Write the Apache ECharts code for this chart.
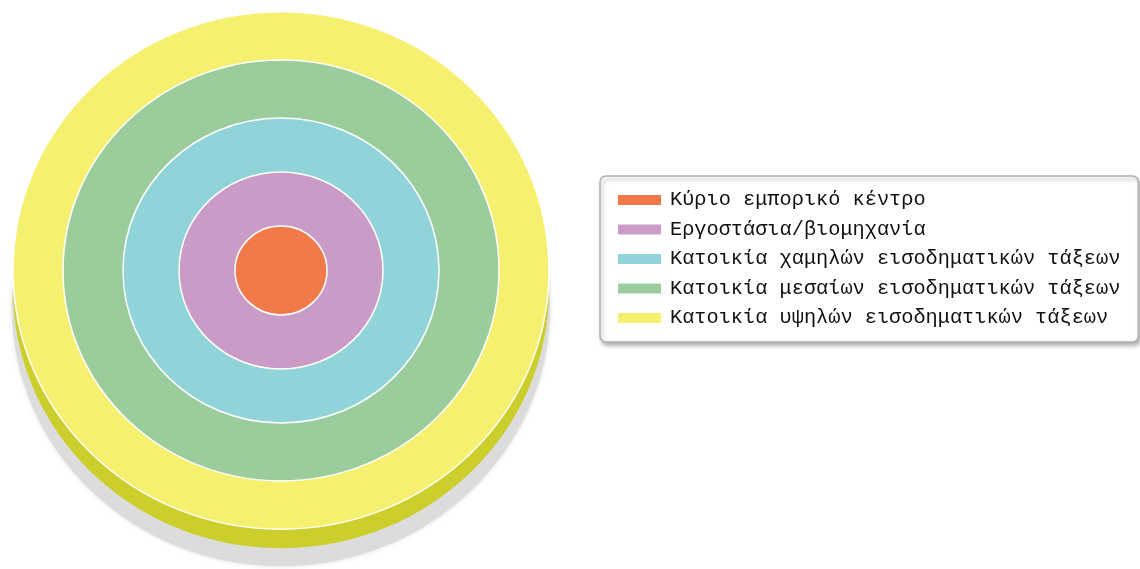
<!DOCTYPE html>
<html>
<head>
<meta charset="utf-8">
<script src="https://cdn.jsdelivr.net/npm/echarts@6/dist/echarts.min.js"></script>
<style>
html,body{margin:0;padding:0;background:#fff;}
#chart{width:1140px;height:569px;}
</style>
</head>
<body>
<div id="chart"></div>
<script>
// Zones, from the centre outwards
const zones = [
  'Κύριο εμπορικό κέντρο',
  'Εργοστάσια/βιομηχανία',
  'Κατοικία χαμηλών εισοδηματικών τάξεων',
  'Κατοικία μεσαίων εισοδηματικών τάξεων',
  'Κατοικία υψηλών εισοδηματικών τάξεων'
];
// Outer radius of each zone (relative units)
const radii = [46, 102, 158, 218, 268];
const colors = ['#f27a4a', '#cb9bc7', '#90d3d8', '#9bcd9c', '#f6f070'];

const chart = echarts.init(document.getElementById('chart'));

function makeRender(isOuter) {
  return function (params, api) {
    const c = api.coord([0, 0]);
    const s = api.size([api.value(0), api.value(0)]);
    const main = {
      type: 'ellipse',
      shape: { cx: c[0], cy: c[1], rx: s[0], ry: s[1] },
      style: { fill: api.visual('color'), stroke: '#ffffff', lineWidth: 1.5 }
    };
    if (!isOuter) return main;
    return {
      type: 'group',
      children: [
        {
          type: 'ellipse',
          shape: { cx: c[0], cy: c[1] + 37, rx: s[0] + 1, ry: s[1] },
          style: { fill: '#dcdcdc', shadowBlur: 4, shadowColor: '#dcdcdc' }
        },
        {
          type: 'ellipse',
          shape: { cx: c[0], cy: c[1] + 19, rx: s[0], ry: s[1] },
          style: { fill: '#cbce2b' }
        },
        main
      ]
    };
  };
}

const series = [];
for (let i = zones.length - 1; i >= 0; i--) {
  series.push({
    type: 'custom',
    name: zones[i],
    coordinateSystem: 'cartesian2d',
    itemStyle: { color: colors[i] },
    renderItem: makeRender(i === zones.length - 1),
    data: [[radii[i]]],
    silent: true,
    animation: false
  });
}

chart.setOption({
  animation: false,
  grid: { left: 13, top: 11.8, width: 536, height: 517.4, containLabel: false },
  xAxis: { type: 'value', min: -268, max: 268, show: false },
  yAxis: { type: 'value', min: -268, max: 268, show: false },
  legend: {
    data: zones,
    orient: 'vertical',
    left: 600,
    top: 176,
    padding: [14, 18, 14, 18],
    itemWidth: 43,
    itemHeight: 10,
    itemGap: 9.5,
    icon: 'rect',
    backgroundColor: '#ffffff',
    borderColor: '#b0b0b0',
    borderWidth: 1.5,
    borderRadius: 6,
    shadowColor: 'rgba(0,0,0,0.3)',
    shadowBlur: 4,
    shadowOffsetX: 2,
    shadowOffsetY: 3,
    selectedMode: false,
    textStyle: {
      fontFamily: 'Liberation Mono',
      fontSize: 20.3,
      color: '#111111',
      padding: [0, 0, 0, 4]
    }
  },
  series: series
});
</script>
</body>
</html>
